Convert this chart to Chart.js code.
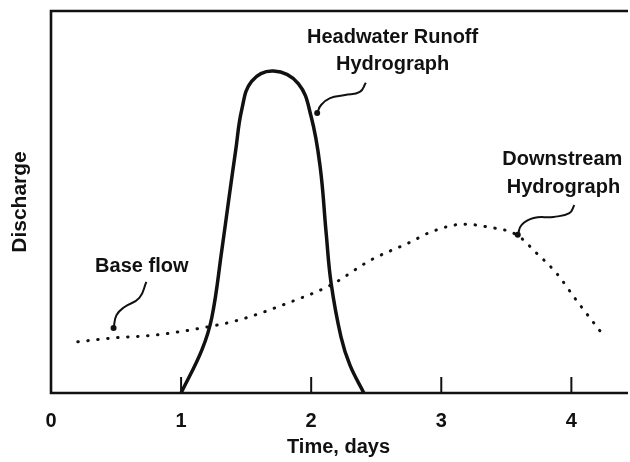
<!DOCTYPE html>
<html>
<head>
<meta charset="utf-8">
<script src="https://cdn.jsdelivr.net/npm/chart.js@4.4.1/dist/chart.umd.min.js"></script>
<style>
  html, body { margin: 0; padding: 0; background: #fff; }
  #wrap { width: 630px; height: 462px; }
</style>
</head>
<body>
<div id="wrap"><canvas id="chart" width="630" height="462"></canvas></div>
<script>
// headwater runoff hydrograph (solid)
const headwaterDays = [1.0, 1.16, 1.237, 1.313, 1.366, 1.42, 1.466, 1.542, 1.71, 1.901, 2.0, 2.069, 2.115, 2.153, 2.229, 2.298, 2.405];
const headwaterFlow = [0, 11.3, 19.9, 37.4, 50.5, 63.6, 74.1, 81.6, 84.3, 81.0, 72.3, 59.2, 41.9, 28.8, 14.7, 7.3, 0];

// downstream hydrograph (dotted)
const downstreamDays = [0.206, 0.473, 0.809, 1.153, 1.443, 1.824, 2.153, 2.458, 2.763, 2.916, 3.176, 3.351, 3.58, 3.733, 3.885, 4.038, 4.244];
const downstreamFlow = [13.4, 14.4, 15.2, 17.0, 19.1, 23.6, 28.3, 34.8, 39.5, 42.1, 44.2, 43.5, 41.4, 36.6, 31.4, 24.3, 15.2];

// pointer squiggles from the labels to the curves
const headPointerDays = [2.42, 2.374, 2.26, 2.145, 2.076, 2.046];
const headPointerFlow = [81.2, 78.8, 78.0, 77.2, 75.4, 73.3];
const downPointerDays = [4.023, 3.985, 3.863, 3.71, 3.618, 3.588];
const downPointerFlow = [49.2, 47.1, 46.1, 45.8, 44.0, 41.4];
const basePointerDays = [0.733, 0.679, 0.565, 0.504, 0.481];
const basePointerFlow = [29.1, 24.9, 22.5, 20.4, 17.0];

// text labels inside the plot (centre x, baseline y)
const labelText = ['Headwater Runoff', 'Hydrograph', 'Downstream', 'Hydrograph', 'Base flow'];
const labelDay = [2.626, 2.626, 3.931, 3.939, 0.698];
const labelFlow = [91.6, 84.6, 59.7, 52.4, 31.7];

const dayTicks = [0, 1, 2, 3, 4];

const ink = '#111';
const family = '"Liberation Sans", Arial, Helvetica, sans-serif';

function points (xs, ys) {
    return xs.map(function (x, i) { return { x: x, y: ys[i] }; });
}

function pointer (xs, ys) {
    return {
        data: points(xs, ys),
        borderColor: ink,
        backgroundColor: ink,
        borderWidth: 2,
        tension: 0.45,
        pointRadius: function (c) { return c.dataIndex === xs.length - 1 ? 3 : 0; },
        pointBorderWidth: 0
    };
}

// frame, inward tick marks and the text labels
const framePlugin = {
    id: 'frame',
    afterDatasetsDraw (chart) {
        const { ctx, chartArea: a, scales: { x, y } } = chart;
        ctx.save();
        ctx.strokeStyle = ink;
        ctx.lineWidth = 2.6;
        ctx.beginPath();
        ctx.moveTo(a.right + 2, a.top);
        ctx.lineTo(a.left, a.top);
        ctx.lineTo(a.left, a.bottom);
        ctx.lineTo(a.right + 2, a.bottom);
        ctx.stroke();

        ctx.lineWidth = 2;
        x.ticks.forEach(function (t) {
            if (t.value === 0) return;
            const px = x.getPixelForValue(t.value);
            ctx.beginPath();
            ctx.moveTo(px, a.bottom);
            ctx.lineTo(px, a.bottom - 16);
            ctx.stroke();
        });

        ctx.fillStyle = ink;
        ctx.font = 'bold 20px ' + family;
        ctx.textAlign = 'center';
        ctx.textBaseline = 'alphabetic';
        labelText.forEach(function (t, i) {
            ctx.fillText(t, x.getPixelForValue(labelDay[i]), y.getPixelForValue(labelFlow[i]));
        });
        ctx.restore();
    }
};

new Chart(document.getElementById('chart'), {
    type: 'line',
    data: {
        datasets: [
            {
                data: points(headwaterDays, headwaterFlow),
                borderColor: ink,
                borderWidth: 3.5,
                tension: 0.4,
                pointRadius: 0
            },
            {
                data: points(downstreamDays, downstreamFlow),
                borderColor: ink,
                borderWidth: 3,
                borderDash: [0.5, 9.5],
                borderCapStyle: 'round',
                cubicInterpolationMode: 'monotone',
                pointRadius: 0
            },
            pointer(headPointerDays, headPointerFlow),
            pointer(downPointerDays, downPointerFlow),
            pointer(basePointerDays, basePointerFlow)
        ]
    },
    options: {
        responsive: false,
        animation: false,
        devicePixelRatio: 1,
        layout: { padding: { top: 11, right: 0, left: 0, bottom: 0 } },
        plugins: { legend: { display: false }, tooltip: { enabled: false } },
        scales: {
            x: {
                type: 'linear',
                min: 0,
                max: 4.42,
                afterFit: function (s) { s.height = 69; },
                afterBuildTicks: function (s) { s.ticks = dayTicks.map(function (v) { return { value: v }; }); },
                ticks: { stepSize: 1, includeBounds: false, color: ink, padding: 8, font: { family: family, size: 20, weight: 'bold' } },
                grid: { display: false },
                border: { display: false },
                title: { display: true, text: 'Time, days', color: ink, padding: { top: 0, bottom: 3 }, font: { family: family, size: 20, weight: 'bold' } }
            },
            y: {
                min: 0,
                max: 100,
                afterFit: function (s) { s.width = 51; },
                ticks: { display: false },
                grid: { display: false },
                border: { display: false },
                title: { display: true, text: 'Discharge', color: ink, padding: { top: 8, bottom: 0 }, font: { family: family, size: 21, weight: 'bold' } }
            }
        }
    },
    plugins: [framePlugin]
});
</script>
</body>
</html>
